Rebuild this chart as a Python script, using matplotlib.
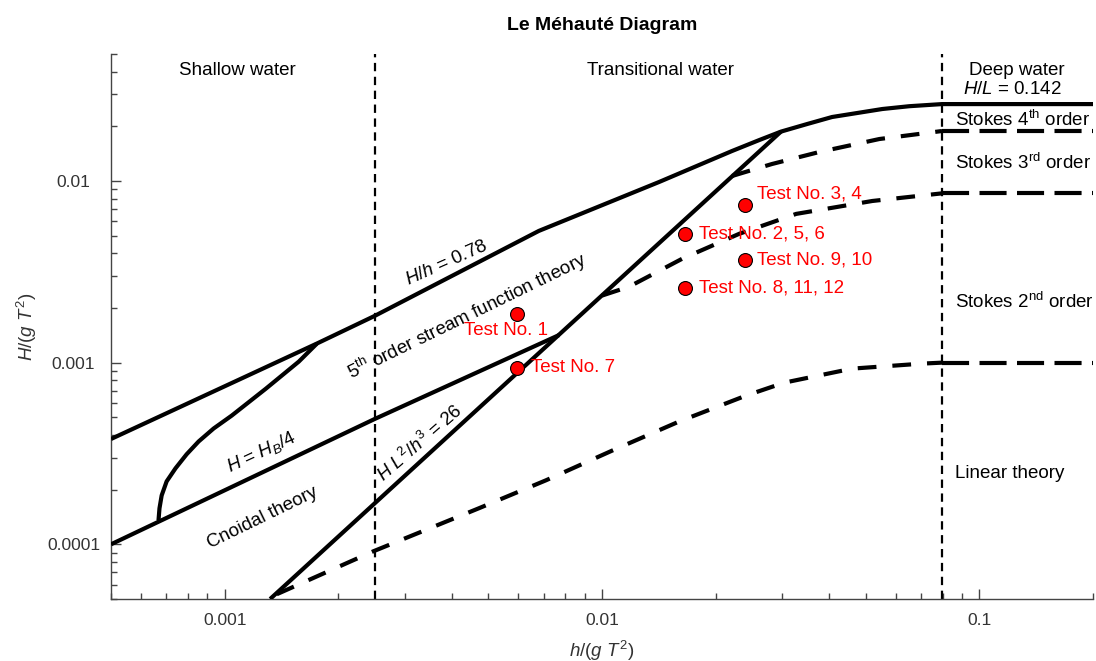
import matplotlib
matplotlib.use("Agg")
import matplotlib.pyplot as plt
from matplotlib.ticker import FixedLocator, FixedFormatter, LogLocator, NullFormatter

plt.rcParams['font.family'] = 'Liberation Sans'
plt.rcParams['mathtext.fontset'] = 'custom'
plt.rcParams['mathtext.rm'] = 'Liberation Sans'
plt.rcParams['mathtext.it'] = 'Liberation Sans:italic'
plt.rcParams['mathtext.bf'] = 'Liberation Sans:bold'
plt.rcParams['lines.scale_dashes'] = False

# breaking limit (H/h = 0.78 in shallow water, H/L = 0.142 in deep water)
hb_x = [0.0005, 0.00175, 0.0025, 0.0068, 0.01416, 0.0221, 0.0261,
        0.0298, 0.035, 0.0407, 0.0553, 0.0652, 0.0796, 0.2]
hb_y = [0.00038, 0.00127, 0.00181, 0.00531, 0.00987, 0.01462, 0.0168,
        0.0187, 0.0206, 0.0225, 0.0249, 0.0258, 0.0265, 0.0265]

# H = H_B/4
quarter_x = [0.0005, 0.0025, 0.0077]
quarter_y = [1.0e-4, 4.9e-4, 1.42e-3]

# cnoidal / stream function boundary
cn_x = [6.68e-4, 6.72e-4, 6.81e-4, 7.02e-4, 7.41e-4, 7.93e-4, 8.53e-4, 9.35e-4,
        1.044e-3, 1.286e-3, 1.572e-3, 1.754e-3]
cn_y = [1.355e-4, 1.578e-4, 1.858e-4, 2.22e-4, 2.62e-4, 3.13e-4, 3.68e-4, 4.34e-4,
        5.11e-4, 7.19e-4, 1.013e-3, 1.27e-3]

# Ursell number H L^2/h^3 = 26
ur_x = [0.00132, 0.0298]
ur_y = [5.0e-5, 0.0187]

# Stokes 3rd / 4th order boundary
s34_x = [0.0221, 0.0282, 0.0376, 0.0543, 0.0796, 0.2]
s34_y = [0.01065, 0.0124, 0.01443, 0.01702, 0.01884, 0.01884]

# Stokes 2nd / 3rd order boundary
s23_x = [0.0100, 0.0118, 0.0163, 0.0231, 0.0327, 0.0520, 0.0796, 0.2]
s23_y = [2.34e-3, 2.62e-3, 3.73e-3, 5.12e-3, 6.59e-3, 7.76e-3, 8.55e-3, 8.55e-3]

# linear theory / Stokes 2nd order boundary
lin_x = [0.001374, 0.00248, 0.00472, 0.0071, 0.01064, 0.0160, 0.0241, 0.0304, 0.0460,
         0.0706, 0.0796, 0.2]
lin_y = [5.31e-5, 9.16e-5, 1.58e-4, 2.25e-4, 3.28e-4, 4.74e-4, 6.59e-4, 7.76e-4, 9.27e-4,
         9.88e-4, 1.0e-3, 1.0e-3]

shallow_limit = 0.0025
deep_limit = 0.0796

test_names = ['Test No. 1', 'Test No. 7', 'Test No. 2, 5, 6', 'Test No. 8, 11, 12',
              'Test No. 3, 4', 'Test No. 9, 10']
test_x = [5.95e-3, 5.95e-3, 0.0166, 0.0166, 0.0239, 0.0239]
test_y = [1.86e-3, 9.39e-4, 5.12e-3, 2.58e-3, 7.38e-3, 3.68e-3]
test_offsets = [(-8, -12), (10, 0), (10, 0), (10, 0), (9, 8), (9, 0)]
test_align = ['center', 'left', 'left', 'left', 'left', 'left']

fig = plt.figure(figsize=(10.96, 6.61), dpi=100)
ax = fig.add_axes([0.1013, 0.0938, 0.896, 0.8245])
ax.set_xscale('log')
ax.set_yscale('log')
ax.set_xlim(0.0005, 0.2)
ax.set_ylim(5e-5, 0.05)

solid = dict(color='black', lw=3, solid_capstyle='butt', solid_joinstyle='round', zorder=3)
ax.plot(hb_x, hb_y, **solid)
ax.plot(quarter_x, quarter_y, **solid)
ax.plot(cn_x, cn_y, **solid)
ax.plot(ur_x, ur_y, **solid)


def dashed_curve(xs, ys):
    # curved part in transitional water, longer dashes in deep water
    n = next(i for i, v in enumerate(xs) if v >= deep_limit)
    ax.plot(xs[:n + 1], ys[:n + 1], color='black', lw=3, dashes=(13.5, 11.5), zorder=3)
    ax.plot(xs[n:], ys[n:], color='black', lw=3, dashes=(19.5, 7.5), zorder=3)


dashed_curve(s34_x, s34_y)
dashed_curve(s23_x, s23_y)
dashed_curve(lin_x, lin_y)

for xv in (shallow_limit, deep_limit):
    ax.axvline(xv, color='black', lw=1.6, dashes=(6, 4), zorder=2)

ax.plot(test_x, test_y, 'o', ms=10, mfc='#ff0000', mec='black', mew=0.8, zorder=5)
for name, xv, yv, off, ha in zip(test_names, test_x, test_y, test_offsets, test_align):
    ax.annotate(name, (xv, yv), xytext=off, textcoords='offset points',
                ha=ha, va='center', color='#ff0000', fontsize=13.5, zorder=6)

# region labels
fs = 13.5
ax.text(0.1283, 0.9706, 'Shallow water', transform=ax.transAxes, ha='center', va='center', fontsize=fs)
ax.text(0.5591, 0.9706, 'Transitional water', transform=ax.transAxes, ha='center', va='center', fontsize=fs)
ax.text(0.9226, 0.9706, 'Deep water', transform=ax.transAxes, ha='center', va='center', fontsize=fs)
ax.text(0.9175, 0.934, r'$H/L$ = 0.142', transform=ax.transAxes, ha='center', va='center', fontsize=fs)
ax.text(0.8595, 0.8789, r'Stokes 4$^{\rm th}$ order', transform=ax.transAxes, ha='left', va='center', fontsize=fs)
ax.text(0.8595, 0.800, r'Stokes 3$^{\rm rd}$ order', transform=ax.transAxes, ha='left', va='center', fontsize=fs)
ax.text(0.8595, 0.545, r'Stokes 2$^{\rm nd}$ order', transform=ax.transAxes, ha='left', va='center', fontsize=fs)
ax.text(0.8595, 0.2294, 'Linear theory', transform=ax.transAxes, ha='left', va='center', fontsize=fs)

rot = dict(transform=ax.transAxes, ha='center', va='center', fontsize=fs, rotation_mode='anchor')
ax.text(0.3422, 0.6165, r'$H/h$ = 0.78', rotation=24, **rot)
ax.text(0.3625, 0.5193, r'5$^{\rm th}$ order stream function theory', rotation=26, **rot)
ax.text(0.1538, 0.2697, r'$H$ = $H_B$/4', rotation=25, **rot)
ax.text(0.1538, 0.1486, 'Cnoidal theory', rotation=26, **rot)
ax.text(0.3147, 0.2862, r'$H\ L^2/h^3$ = 26', rotation=41, **rot)

# axes styling
for side in ('top', 'right'):
    ax.spines[side].set_visible(False)
for side in ('left', 'bottom'):
    ax.spines[side].set_color('#444444')
    ax.spines[side].set_linewidth(1.0)

ax.xaxis.set_major_locator(FixedLocator([0.001, 0.01, 0.1]))
ax.xaxis.set_major_formatter(FixedFormatter(['0.001', '0.01', '0.1']))
ax.yaxis.set_major_locator(FixedLocator([1e-4, 1e-3, 1e-2]))
ax.yaxis.set_major_formatter(FixedFormatter(['0.0001', '0.001', '0.01']))
ax.xaxis.set_minor_locator(LogLocator(base=10, subs=range(2, 10)))
ax.yaxis.set_minor_locator(LogLocator(base=10, subs=range(2, 10)))
ax.xaxis.set_minor_formatter(NullFormatter())
ax.yaxis.set_minor_formatter(NullFormatter())
ax.tick_params(which='major', direction='in', length=7, width=1, color='#444444',
               labelsize=12.5, labelcolor='#333333')
ax.tick_params(which='minor', direction='in', length=4.5, width=1, color='#444444')
ax.tick_params(axis='y', which='major', pad=27)
ax.tick_params(axis='x', which='major', pad=10)
for lab in ax.get_yticklabels():
    lab.set_horizontalalignment('center')

ax.set_xlabel(r'$h/(g\ T^2)$', fontsize=13.5, color='#333333', labelpad=8)
ax.set_ylabel(r'$H/(g\ T^2)$', fontsize=13.5, color='#333333', labelpad=6)

fig.text(0.5493, 0.962, 'Le Méhauté Diagram', ha='center', va='center', fontsize=14, fontweight='bold')

fig.savefig('out.png', dpi=100)
